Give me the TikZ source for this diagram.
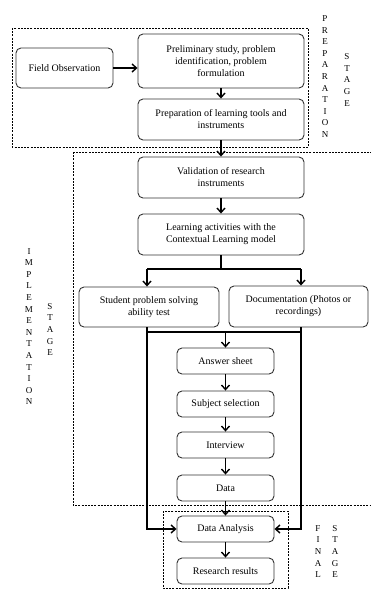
\documentclass[tikz,border=0pt]{standalone}
\usepackage{fontspec}
\setmainfont{Liberation Serif}
\usetikzlibrary{arrows.meta}
\begin{document}
\begin{tikzpicture}[x=1pt,y=-1pt,
 box/.style={draw=black!80, rounded corners=5pt, line width=0.9pt, align=center, font=\fontsize{10}{12}\selectfont, inner sep=1pt},
 arr/.style={line width=1.4pt, -{Straight Barb[length=4.5pt,width=8pt]}},
 ln/.style={line width=1.4pt},
 stagebox/.style={line width=0.6pt, dash pattern=on 2pt off 1.2pt},
 vlab/.style={align=center, inner sep=0pt, font=\fontsize{9}{11.6}\selectfont}]
\useasboundingbox (0,0) rectangle (371,598);
\clip (0,0) rectangle (371,598);
% stage frames
\draw[stagebox] (12,28) rectangle (308,147);
\draw[stagebox] (73,152) rectangle (380,505);
\draw[stagebox] (163,511) rectangle (288,588);
% boxes
\node[box, minimum width=97pt, minimum height=40pt] (fo) at (64.5,68) {Field Observation};
\node[box, minimum width=166pt, minimum height=54pt] (pre) at (221,61) {Preliminary study, problem\\identification, problem\\formulation};
\node[box, minimum width=166pt, minimum height=41pt] (prep) at (221,119.5) {Preparation of learning tools and\\instruments};
\node[box, minimum width=166pt, minimum height=41pt] (val) at (221,177.5) {Validation of research\\instruments};
\node[box, minimum width=166pt, minimum height=41pt] (learn) at (221,234.5) {Learning activities with the\\Contextual Learning model};
\node[box, minimum width=140pt, minimum height=40pt] (stu) at (149,307) {Student problem solving\\ability test};
\node[box, minimum width=139pt, minimum height=41pt] (doc) at (298.5,306.5) {Documentation (Photos or\\recordings)};
\node[box, minimum width=97pt, minimum height=26pt] (ans) at (225.5,361) {Answer sheet};
\node[box, minimum width=97pt, minimum height=26pt] (sub) at (225.5,404) {Subject selection};
\node[box, minimum width=97pt, minimum height=26pt] (int) at (225.5,445) {Interview};
\node[box, minimum width=97pt, minimum height=26pt] (dat) at (225.5,488) {Data};
\node[box, minimum width=97pt, minimum height=26pt] (da) at (225.5,529) {Data Analysis};
\node[box, minimum width=97pt, minimum height=26pt] (res) at (225.5,571) {Research results};
% stage labels
\node[vlab] (l1) at (325,76.5) {P\\R\\E\\P\\A\\R\\A\\T\\I\\O\\N};
\node[vlab] (l2) at (347,80) {S\\T\\A\\G\\E};
\node[vlab] (l3) at (29,326.5) {I\\M\\P\\L\\E\\M\\E\\N\\T\\A\\T\\I\\O\\N};
\node[vlab] (l4) at (50,329.5) {S\\T\\A\\G\\E};
\node[vlab] (l5) at (318,551.5) {F\\I\\N\\A\\L};
\node[vlab] (l6) at (335,551.5) {S\\T\\A\\G\\E};
% connectors
\draw[arr] (fo.east) -- (pre.west |- fo.east);
\draw[arr] (pre.south) -- (prep.north);
\draw[arr] (prep.south) -- (val.north);
\draw[arr] (val.south) -- (learn.north);
\coordinate (sl) at (147,269);
\coordinate (sr) at (301,269);
\draw[ln] (learn.south) -- (learn.south |- sl);
\draw[ln] (sl) -- (sr);
\draw[arr] (sl) -- (sl |- stu.north);
\draw[arr] (sr) -- (sr |- doc.north);
\draw[arr] (sl |- stu.south) -- (sl |- da.west) -- (da.west);
\draw[arr] (sr |- doc.south) -- (sr |- da.east) -- (da.east);
\coordinate (hm) at (225.5,332);
\draw[ln] (sl |- hm) -- (sr |- hm);
\draw[arr] (hm) -- (ans.north);
\draw[arr] (ans.south) -- (sub.north);
\draw[arr] (sub.south) -- (int.north);
\draw[arr] (int.south) -- (dat.north);
\draw[arr] (dat.south) -- (da.north);
\draw[arr] (da.south) -- (res.north);
\end{tikzpicture}
\end{document}
